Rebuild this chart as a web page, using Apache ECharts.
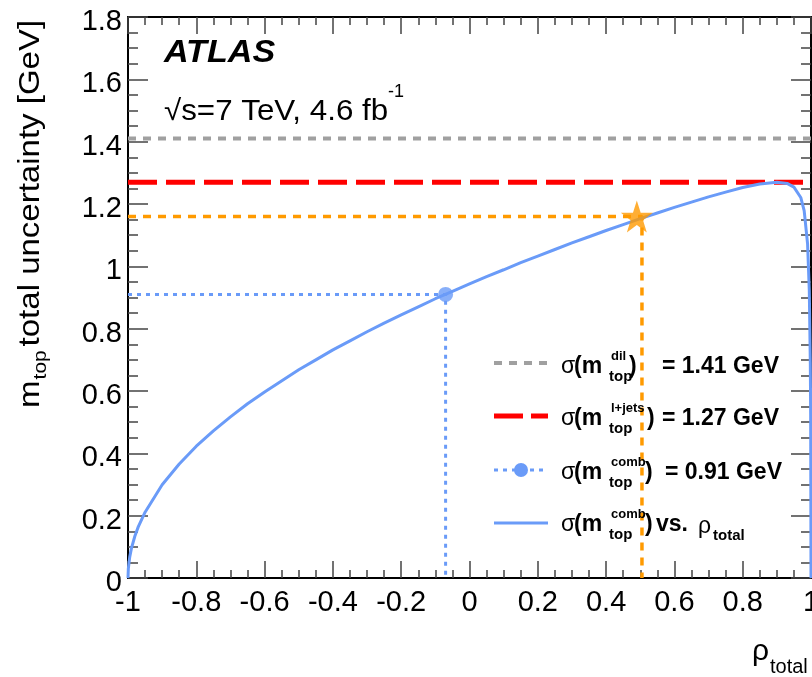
<!DOCTYPE html>
<html>
<head>
<meta charset="utf-8">
<script src="https://cdn.jsdelivr.net/npm/echarts@6/dist/echarts.min.js"></script>
<style>
  html, body { margin: 0; padding: 0; background: #fff; }
  #chart { width: 812px; height: 677px; }
</style>
</head>
<body>
<div id="chart"></div>
<script>
// rho_total values and combined uncertainty
const rhoValues = [-1, -0.999, -0.995, -0.99, -0.98, -0.97, -0.95, -0.9, -0.85, -0.8, -0.75, -0.7, -0.65,
  -0.6, -0.5, -0.45, -0.4, -0.35, -0.3, -0.25, -0.2, -0.15, -0.1, -0.05, 0, 0.05, 0.1, 0.15, 0.2,
  0.25, 0.3, 0.35, 0.4, 0.45, 0.5, 0.55, 0.6, 0.65, 0.7, 0.75, 0.8, 0.85, 0.9, 0.93, 0.95, 0.97,
  0.98, 0.99, 0.995, 0.998, 0.999, 1];
const sigmaValues = [0, 0.030, 0.067, 0.095, 0.134, 0.164, 0.211, 0.299, 0.366, 0.423, 0.472, 0.517, 0.559,
  0.597, 0.668, 0.700, 0.732, 0.761, 0.790, 0.818, 0.844, 0.870, 0.896, 0.920, 0.944, 0.967, 0.989, 1.012, 1.033,
  1.054, 1.075, 1.095, 1.115, 1.134, 1.153, 1.171, 1.189, 1.206, 1.223, 1.238, 1.253, 1.264, 1.270, 1.266, 1.254, 1.221,
  1.179, 1.072, 0.923, 0.691, 0.525, 0];

// single measurements and the combination
const sigmaDil = 1.41;
const sigmaLjets = 1.27;
const sigmaComb = 0.91;
const rhoComb = -0.07;
const starPoint = [0.49, 1.16];
const orangeRho = 0.505;
const orangeSigma = 1.16;

const xRange = [-1, 1];

const FONT = 'Liberation Sans, Arial, Helvetica, sans-serif';
const BLUE = '#6a9bf8';
const ORANGE = '#ff9a00';
const GREY = '#a0a0a0';
const RED = '#ff0000';

const curveData = rhoValues.map((r, i) => [r, sigmaValues[i]]);

const chart = echarts.init(document.getElementById('chart'));

const starPath = 'path://M50,0 L61.8,35.5 L99,35.5 L69,57.5 L80.5,93 L50,71 L19.5,93 L31,57.5 L1,35.5 L38.2,35.5 Z';

// 图例和文字
function t(x, y, text, size, weight, extra) {
  return Object.assign({
    type: 'text', x: x, y: y, z: 100,
    style: {
      text: text, fill: '#000',
      font: (weight || 'normal') + ' ' + size + 'px ' + FONT,
      verticalAlign: 'middle', align: 'left'
    }
  }, extra || {});
}
function line(x1, x2, y, color, width, dash) {
  return {
    type: 'line', z: 100,
    shape: { x1: x1, y1: y, x2: x2, y2: y },
    style: { stroke: color, lineWidth: width, lineDash: dash || null }
  };
}
function sigmaLabel(yc, sup, closeX) {
  return [
    t(561, yc, 'σ', 23, 'normal'),
    t(574, yc, '(m', 23, 'bold'),
    t(611, yc - 11, sup, 13, 'bold'),
    t(609, yc + 10, 'top', 15, 'bold'),
    t(closeX, yc, ')', 23, 'bold')
  ];
}

const graphics = [
  t(164, 53, 'ATLAS', 31, 'italic bold', { scaleX: 1.1 }),
  t(164, 112, '√s=7 TeV, 4.6 fb', 29, 'normal', { scaleX: 1.08 }),
  t(388, 92, '-1', 18, 'normal'),
  // y axis name
  {
    type: 'group', x: 31, y: 408, rotation: Math.PI / 2, scaleX: 1.1, z: 100,
    children: [
      t(0, 0, 'm', 30, 'normal'),
      t(26, 10, 'top', 19, 'normal'),
      t(56, 0, 'total uncertainty [GeV]', 30, 'normal')
    ]
  },
  // x axis name
  t(752, 652, 'ρ', 30, 'normal'),
  t(770, 667, 'total', 20, 'normal'),
  // legend icons
  line(494, 548, 363, GREY, 4, [8, 7]),
  line(494, 548, 416, RED, 5, [29, 8]),
  line(494, 548, 470, BLUE, 3, [4, 5]),
  { type: 'circle', z: 100, shape: { cx: 521, cy: 470, r: 7 }, style: { fill: BLUE } },
  line(494, 548, 523, BLUE, 3),
  // legend texts
  ...sigmaLabel(367, 'dil', 629),
  t(662, 367, '= 1.41 GeV', 23, 'bold'),
  ...sigmaLabel(419, 'l+jets', 647),
  t(662, 419, '= 1.27 GeV', 23, 'bold'),
  ...sigmaLabel(473, 'comb', 645),
  t(665, 473, '= 0.91 GeV', 23, 'bold'),
  ...sigmaLabel(525, 'comb', 645),
  t(656, 525, 'vs.', 23, 'bold'),
  t(698, 527, 'ρ', 23, 'normal'),
  t(713, 536, 'total', 15, 'bold')
];

const axisLineStyle = { color: '#000', width: 2 };
const tickStyle = { color: '#444', width: 1.5 };

function makeX(position, showLabel) {
  return {
    type: 'value', position: position, min: xRange[0], max: xRange[1], interval: 0.2,
    axisLine: { show: true, onZero: false, lineStyle: axisLineStyle },
    axisTick: { show: true, inside: true, length: 17, lineStyle: tickStyle },
    minorTick: { show: true, splitNumber: 4, length: 8, lineStyle: tickStyle },
    splitLine: { show: false },
    axisLabel: {
      show: showLabel, color: '#000', fontSize: 29, fontFamily: FONT, margin: 10,
      alignMinLabel: 'center', alignMaxLabel: 'center',
      formatter: v => String(Math.round(v * 10) / 10)
    }
  };
}
function makeY(position, showLabel) {
  return {
    type: 'value', position: position, min: 0, max: 1.8, interval: 0.2,
    axisLine: { show: true, onZero: false, lineStyle: axisLineStyle },
    axisTick: { show: true, inside: true, length: 20, lineStyle: tickStyle },
    minorTick: { show: true, splitNumber: 4, length: 10, lineStyle: tickStyle },
    splitLine: { show: false },
    axisLabel: {
      show: showLabel, margin: 6,
      formatter: v => '{v|' + String(Math.round(v * 10) / 10) + '}',
      rich: {
        v: { color: '#000', fontSize: 29, fontFamily: FONT, padding: [10, 0, 0, 0] }
      }
    }
  };
}

const option = {
  animation: false,
  backgroundColor: '#fff',
  grid: { left: 128, right: 1, top: 17, bottom: 99, containLabel: false, outerBoundsMode: 'none' },
  xAxis: [makeX('bottom', true), makeX('top', false)],
  yAxis: [makeY('left', true), makeY('right', false)],
  series: [
    {
      name: 'dil', type: 'line', symbol: 'none', z: 2,
      data: [[xRange[0], sigmaDil], [xRange[1], sigmaDil]],
      lineStyle: { color: GREY, width: 4, type: [8, 7] }
    },
    {
      name: 'l+jets', type: 'line', symbol: 'none', z: 2,
      data: [[xRange[0], sigmaLjets], [xRange[1], sigmaLjets]],
      lineStyle: { color: RED, width: 5, type: [29, 9] }
    },
    {
      name: 'comb', type: 'line', symbol: 'none', z: 2,
      data: [[xRange[0], sigmaComb], [rhoComb, sigmaComb], [rhoComb, 0]],
      lineStyle: { color: BLUE, width: 3, type: [4, 5] }
    },
    {
      name: 'orange', type: 'line', symbol: 'none', z: 2,
      data: [[xRange[0], orangeSigma], [orangeRho, orangeSigma], [orangeRho, 0]],
      lineStyle: { color: ORANGE, width: 3.5, type: [8, 7] }
    },
    {
      name: 'curve', type: 'line', symbol: 'none', z: 3,
      data: curveData,
      lineStyle: { color: BLUE, width: 3 }
    },
    {
      name: 'comb point', type: 'scatter', z: 4,
      data: [[rhoComb, sigmaComb]],
      symbol: 'circle', symbolSize: 15,
      itemStyle: { color: BLUE }
    },
    {
      name: 'star', type: 'scatter', z: 5,
      data: [starPoint],
      symbol: starPath, symbolSize: 32,
      itemStyle: { color: ORANGE }
    }
  ],
  graphic: graphics
};

chart.setOption(option);
</script>
</body>
</html>
